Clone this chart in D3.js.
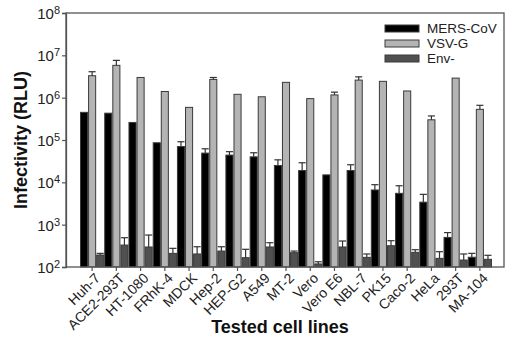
<!DOCTYPE html>
<html>
<head>
<meta charset="utf-8">
<script src="https://cdn.jsdelivr.net/npm/d3@7"></script>
<style>
  html, body { margin: 0; padding: 0; background: #fff; }
  svg { display: block; font-family: "Liberation Sans", Arial, sans-serif; }
</style>
</head>
<body>
<svg id="chart" width="518" height="343"></svg>
<script>
const categories = ["Huh-7","ACE2-293T","HT-1080","FRhK-4","MDCK","Hep-2","HEP-G2","A549","MT-2","Vero","Vero E6","NBL-7","PK15","Caco-2","HeLa","293T","MA-104"];
const seriesNames = ["MERS-CoV","VSV-G","Env-"];
const mersValues = [4.5e5,4.3e5,2.6e5,8.6e4,7.0e4,4.9e4,4.4e4,4.0e4,2.5e4,1.9e4,1.5e4,1.9e4,6.6e3,5.5e3,3.4e3,5.0e2,1.7e2];
const mersUpper  = [null,null,null,null,9.1e4,6.2e4,5.3e4,5.0e4,3.4e4,2.9e4,null,2.6e4,8.8e3,8.3e3,5.2e3,6.5e2,2.1e2];
const vsvValues  = [3.3e6,5.8e6,3.0e6,1.4e6,5.9e5,2.7e6,1.2e6,1.05e6,2.3e6,9.5e5,1.16e6,2.6e6,2.43e6,1.44e6,3.0e5,2.9e6,5.3e5];
const vsvUpper   = [4.1e6,7.6e6,null,null,null,3.0e6,null,null,null,null,1.35e6,3.1e6,null,null,3.7e5,null,6.6e5];
const envValues  = [192,330,297,210,203,238,166,297,218,118,297,169,318,222,160,146,152];
const envUpper   = [210,492,569,276,301,301,262,375,238,133,411,203,418,256,230,203,189];
const yTickValues = [1e2,1e3,1e4,1e5,1e6,1e7,1e8];
const yTickExponents = ["2","3","4","5","6","7","8"];

const seriesColors = { "MERS-CoV": "#000000", "VSV-G": "#b4b4b4", "Env-": "#505050" };
const seriesData = [
  { name: "MERS-CoV", values: mersValues, upper: mersUpper },
  { name: "VSV-G", values: vsvValues, upper: vsvUpper },
  { name: "Env-", values: envValues, upper: envUpper }
];

const svg = d3.select("#chart");
const plot = { left: 66, right: 504, top: 13, bottom: 267 };

const y = d3.scaleLog().domain([1e2, 1e8]).range([plot.bottom, plot.top]);
const x0 = d3.scaleBand().domain(categories).range([80, 492]).padding(0);
const x1 = d3.scaleBand().domain(seriesNames).range([0, x0.bandwidth()]).padding(0);

// bars
const groups = svg.append("g").selectAll("g")
  .data(seriesData).join("g");

groups.each(function(s) {
  const g = d3.select(this);
  const rows = categories.map((c, i) => ({ c, v: s.values[i], u: s.upper[i] }));
  g.selectAll("rect").data(rows).join("rect")
    .attr("x", d => x0(d.c) + x1(s.name) + 0.5)
    .attr("y", d => y(d.v))
    .attr("width", x1.bandwidth() - 1)
    .attr("height", d => y(1e2) - y(d.v))
    .attr("fill", seriesColors[s.name])
    .attr("stroke", "#3a3a3a")
    .attr("stroke-width", 1);
  const errs = rows.filter(d => d.u != null);
  g.selectAll("line.ev").data(errs).join("line")
    .attr("class", "ev")
    .attr("x1", d => x0(d.c) + x1(s.name) + x1.bandwidth() / 2)
    .attr("x2", d => x0(d.c) + x1(s.name) + x1.bandwidth() / 2)
    .attr("y1", d => y(d.v)).attr("y2", d => y(d.u))
    .attr("stroke", "#333").attr("stroke-width", 1.2);
  g.selectAll("line.ec").data(errs).join("line")
    .attr("class", "ec")
    .attr("x1", d => x0(d.c) + x1(s.name) + 0.5)
    .attr("x2", d => x0(d.c) + x1(s.name) + x1.bandwidth() - 0.5)
    .attr("y1", d => y(d.u)).attr("y2", d => y(d.u))
    .attr("stroke", "#333").attr("stroke-width", 1.2);
});

// frame
svg.append("rect")
  .attr("x", plot.left).attr("y", plot.top)
  .attr("width", plot.right - plot.left).attr("height", plot.bottom - plot.top)
  .attr("fill", "none").attr("stroke", "#555").attr("stroke-width", 1.3);

// y axis
const yAxis = d3.axisLeft(y).tickValues(yTickValues).tickSize(4).tickFormat(() => "");
const yG = svg.append("g").attr("transform", `translate(${plot.left},0)`).call(yAxis);
yG.select(".domain").attr("stroke", "#555").attr("stroke-width", 1.3);
yG.selectAll(".tick line").attr("stroke", "#555").attr("stroke-width", 1.2);
yG.selectAll(".tick").each(function(d, i) {
  const t = d3.select(this).select("text")
    .attr("x", -6).attr("dy", "0.36em")
    .attr("fill", "#222").attr("font-size", 15).attr("text-anchor", "end")
    .text("10");
  t.append("tspan").attr("dy", "-0.45em").attr("font-size", 11).text(yTickExponents[i]);
});

// x axis
const xAxis = d3.axisBottom(x0).tickSize(4).tickSizeOuter(0);
const xG = svg.append("g").attr("transform", `translate(0,${plot.bottom})`).call(xAxis);
xG.select(".domain").remove();
xG.selectAll(".tick line").attr("stroke", "#555").attr("stroke-width", 1.2);
xG.selectAll(".tick text")
  .attr("fill", "#222").attr("font-size", 14)
  .attr("text-anchor", "end")
  .attr("transform", "translate(3,6) rotate(-45)")
  .attr("dy", "0.6em").attr("dx", 0).attr("y", 0).attr("x", 0);

// axis titles
svg.append("text")
  .attr("transform", `translate(27,${(plot.top + plot.bottom) / 2}) rotate(-90)`)
  .attr("text-anchor", "middle").attr("font-weight", "bold").attr("font-size", 18)
  .attr("fill", "#111").text("Infectivity (RLU)");
svg.append("text")
  .attr("x", 280).attr("y", 333)
  .attr("text-anchor", "middle").attr("font-weight", "bold").attr("font-size", 18)
  .attr("fill", "#111").text("Tested cell lines");

// legend
const legend = svg.append("g").attr("transform", "translate(385,25)");
seriesNames.forEach((n, i) => {
  legend.append("rect").attr("x", 0).attr("y", i * 15).attr("width", 34).attr("height", 7)
    .attr("fill", seriesColors[n]).attr("stroke", "#3a3a3a").attr("stroke-width", 1);
  legend.append("text").attr("x", 42).attr("y", i * 15 + 3.5).attr("dy", "0.36em")
    .attr("font-size", 13.5).attr("fill", "#222").text(n);
});
</script>
</body>
</html>
